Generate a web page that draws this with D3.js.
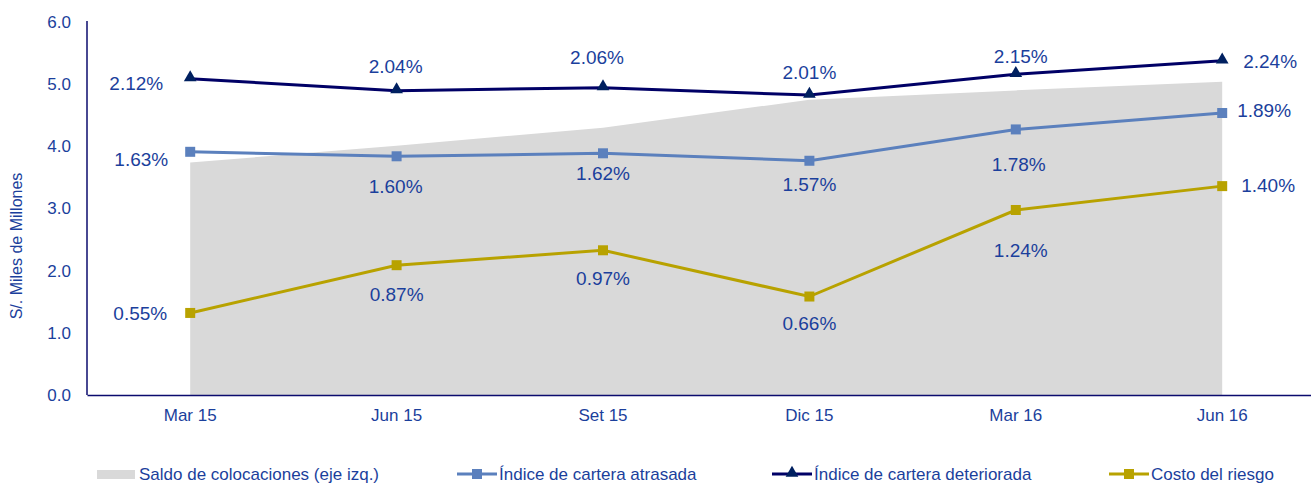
<!DOCTYPE html>
<html>
<head>
<meta charset="utf-8">
<script src="https://cdn.jsdelivr.net/npm/d3@7"></script>
<style>
  body { margin: 0; background: #fff; }
  svg text { font-family: "Liberation Sans", Arial, sans-serif; fill: #1b3f9c; }
</style>
</head>
<body>
<div id="chart"></div>
<script>
// Data
var periods = ["Mar 15", "Jun 15", "Set 15", "Dic 15", "Mar 16", "Jun 16"];
var saldo = [3.74, 4.01, 4.30, 4.75, 4.90, 5.04];           // S/. miles de millones (eje izq.)
var carteraAtrasada = [1.63, 1.60, 1.62, 1.57, 1.78, 1.89];  // %
var carteraDeteriorada = [2.12, 2.04, 2.06, 2.01, 2.15, 2.24]; // %
var costoRiesgo = [0.55, 0.87, 0.97, 0.66, 1.24, 1.40];      // %
var yTicks = [0, 1, 2, 3, 4, 5, 6];

// label placement (anchor, dx, dy) per point
var placeDeteriorada = [["end", -27, 5], ["middle", -1, -24], ["middle", -6, -30], ["middle", 0, -23], ["middle", 5, -18], ["start", 21, 1]];
var placeAtrasada = [["end", -22, 8], ["middle", -1, 30], ["middle", 0, 20], ["middle", 0, 24], ["middle", 3, 35], ["start", 15, -3]];
var placeCosto = [["end", -23, 0], ["middle", 0, 29], ["middle", 0, 28], ["middle", 0, 27], ["middle", 5, 40], ["start", 19, -1]];

var svgWidth = 1311, svgHeight = 485;
var x0 = 87, yBottom = 395, yTop = 22;

var svg = d3.select("#chart").append("svg")
  .attr("width", svgWidth)
  .attr("height", svgHeight);

var xScale = d3.scaleBand()
  .domain(periods)
  .range([x0, x0 + 6 * 206.4]);

var xc = function(i) { return xScale(periods[i]) + xScale.bandwidth() / 2; };

var yScale = d3.scaleLinear().domain([0, 6]).range([yBottom, yTop]);
// hidden secondary axis for the ratios
var y2Scale = d3.scaleLinear().domain([0, 2.5]).range([yBottom, yTop]);

// Area: saldo de colocaciones
var area = d3.area()
  .x(function(d, i) { return xc(i); })
  .y0(yBottom)
  .y1(function(d) { return yScale(d); });

svg.append("path")
  .datum(saldo)
  .attr("d", area)
  .attr("fill", "#d9d9d9");

// Axes
var yAxis = d3.axisLeft(yScale)
  .tickValues(yTicks)
  .tickFormat(d3.format(".1f"))
  .tickSize(0)
  .tickPadding(16);

var yG = svg.append("g")
  .attr("transform", "translate(" + x0 + ",0)")
  .call(yAxis);
yG.select(".domain").attr("stroke", "#0b0b6e").attr("stroke-width", 1.5)
  .attr("d", "M0," + (yTop - 1) + "V" + yBottom);
yG.selectAll("text").style("font-size", "17px").attr("fill", "#1b3f9c");

var xAxis = d3.axisBottom(xScale).tickSize(0).tickPadding(14);
var xG = svg.append("g")
  .attr("transform", "translate(0," + yBottom + ")")
  .call(xAxis);
xG.select(".domain").attr("stroke", "#0b0b6e").attr("stroke-width", 1.5);
xG.selectAll("text").style("font-size", "17px").attr("fill", "#1b3f9c");

// Y axis title
svg.append("text")
  .attr("transform", "translate(22,246) rotate(-90)")
  .attr("text-anchor", "middle")
  .style("font-size", "16px")
  .text("S/. Miles de Millones");

// Series
var series = [
  { values: carteraAtrasada, color: "#5b80bd", marker: "square", place: placeAtrasada },
  { values: carteraDeteriorada, color: "#000066", markerColor: "#002060", marker: "triangle", place: placeDeteriorada },
  { values: costoRiesgo, color: "#b8a200", marker: "square", place: placeCosto }
];

var line = d3.line()
  .x(function(d, i) { return xc(i); })
  .y(function(d) { return y2Scale(d); });

var triangle = d3.symbol().type(d3.symbolTriangle).size(70);

series.forEach(function(s) {
  svg.append("path")
    .datum(s.values)
    .attr("d", line)
    .attr("fill", "none")
    .attr("stroke", s.color)
    .attr("stroke-width", 3);

  var g = svg.append("g");
  if (s.marker === "square") {
    g.selectAll("rect")
      .data(s.values)
      .enter()
      .append("rect")
      .attr("x", function(d, i) { return xc(i) - 5; })
      .attr("y", function(d) { return y2Scale(d) - 5; })
      .attr("width", 10)
      .attr("height", 10)
      .attr("fill", s.color);
  } else {
    g.selectAll("path")
      .data(s.values)
      .enter()
      .append("path")
      .attr("d", triangle)
      .attr("transform", function(d, i) { return "translate(" + xc(i) + "," + (y2Scale(d) - 1) + ")"; })
      .attr("fill", s.markerColor);
  }

  svg.append("g").selectAll("text")
    .data(s.values)
    .enter()
    .append("text")
    .attr("x", function(d, i) { return xc(i) + s.place[i][1]; })
    .attr("y", function(d, i) { return y2Scale(d) + s.place[i][2]; })
    .attr("dy", "0.35em")
    .attr("text-anchor", function(d, i) { return s.place[i][0]; })
    .style("font-size", "19px")
    .text(function(d) { return d3.format(".2f")(d) + "%"; });
});

// Legend
var legendY = 474;
var legend = svg.append("g");

legend.append("rect")
  .attr("x", 97).attr("y", legendY - 4)
  .attr("width", 38).attr("height", 9)
  .attr("fill", "#d9d9d9");
legend.append("text")
  .attr("x", 139).attr("y", legendY).attr("dy", "0.35em")
  .style("font-size", "17px")
  .text("Saldo de colocaciones (eje izq.)");

var legendItems = [
  { x: 457, label: "Índice de cartera atrasada", s: series[0] },
  { x: 772, label: "Índice de cartera deteriorada", s: series[1] },
  { x: 1109, label: "Costo del riesgo", s: series[2] }
];

legendItems.forEach(function(it) {
  legend.append("line")
    .attr("x1", it.x).attr("x2", it.x + 40)
    .attr("y1", legendY).attr("y2", legendY)
    .attr("stroke", it.s.color).attr("stroke-width", 3);
  if (it.s.marker === "square") {
    legend.append("rect")
      .attr("x", it.x + 15).attr("y", legendY - 5)
      .attr("width", 10).attr("height", 10)
      .attr("fill", it.s.color);
  } else {
    legend.append("path")
      .attr("d", triangle)
      .attr("transform", "translate(" + (it.x + 20) + "," + (legendY - 1) + ")")
      .attr("fill", it.s.markerColor);
  }
  legend.append("text")
    .attr("x", it.x + 42).attr("y", legendY).attr("dy", "0.35em")
    .style("font-size", "17px")
    .text(it.label);
});
</script>
</body>
</html>
